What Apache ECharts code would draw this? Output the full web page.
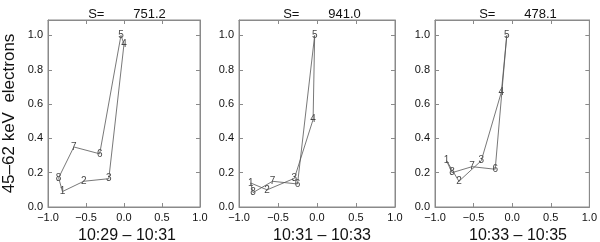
<!DOCTYPE html>
<html>
<head>
<meta charset="utf-8">
<script src="https://cdn.jsdelivr.net/npm/echarts@6/dist/echarts.min.js"></script>
<style>
  html, body { margin: 0; padding: 0; background: #fff; }
  #chart { width: 600px; height: 242px; }
</style>
</head>
<body>
<div id="chart"></div>
<script>
    // point labels, same for each panel
    var pointNames = ['1', '2', '3', '4', '5', '6', '7', '8'];

    // panel 1 : 10:29 - 10:31
    var xs1 = [-0.81, -0.53, -0.20, 0.00, -0.04, -0.32, -0.66, -0.86];
    var ys1 = [0.09, 0.15, 0.165, 0.95, 1.00, 0.31, 0.35, 0.17];
    // panel 2 : 10:31 - 10:33
    var xs2 = [-0.85, -0.64, -0.29, -0.05, -0.03, -0.25, -0.57, -0.82];
    var ys2 = [0.14, 0.10, 0.167, 0.51, 1.00, 0.134, 0.15, 0.084];
    // panel 3 : 10:33 - 10:35
    var xs3 = [-0.85, -0.69, -0.40, -0.14, -0.07, -0.22, -0.52, -0.78];
    var ys3 = [0.27, 0.15, 0.27, 0.67, 1.00, 0.22, 0.235, 0.20];

    var sValues = ['751.2', '941.0', '478.1'];
    var timeLabels = ['10:29 \u2013 10:31', '10:31 \u2013 10:33', '10:33 \u2013 10:35'];
    var yName = '45\u201362 keV  electrons';

    var panels = [[xs1, ys1], [xs2, ys2], [xs3, ys3]];
    var gridLeft = [44, 239, 435];
    var gridWidth = 156;
    var gridTop = 20;
    var gridHeight = 187;

    var font = 'Liberation Sans, Arial, sans-serif';
    var axisColor = '#8a8a8a';

    function fmt(v) {
        var s = v.toFixed(1);
        return v < 0 ? '\u2212' + s.slice(1) : s;
    }

    var grids = [], xAxes = [], yAxes = [], series = [], titles = [];

    panels.forEach(function (p, i) {
        grids.push({
            left: gridLeft[i], top: gridTop, width: gridWidth, height: gridHeight,
            show: true, borderColor: axisColor, borderWidth: 1, backgroundColor: 'transparent'
        });
        // bottom x axis with labels
        xAxes.push({
            gridIndex: i, type: 'value', min: -1, max: 1, interval: 0.5, position: 'bottom',
            axisLine: {show: true, onZero: false, lineStyle: {color: axisColor}},
            axisTick: {show: true, inside: true, length: 4, lineStyle: {color: axisColor}},
            axisLabel: {color: '#111', fontSize: 11, fontFamily: font, margin: 5, formatter: fmt},
            splitLine: {show: false}
        });
        // top mirror x axis
        xAxes.push({
            gridIndex: i, type: 'value', min: -1, max: 1, interval: 0.5, position: 'top',
            axisLine: {show: true, onZero: false, lineStyle: {color: axisColor}},
            axisTick: {show: true, inside: true, length: 4, lineStyle: {color: axisColor}},
            axisLabel: {show: false}, splitLine: {show: false}
        });
        yAxes.push({
            gridIndex: i, type: 'value', min: 0, max: 1.09, interval: 0.2, position: 'left',
            name: i === 0 ? yName : '', nameLocation: 'middle', nameGap: 30,
            nameTextStyle: {fontSize: 17, color: '#111', fontFamily: font},
            axisLine: {show: true, onZero: false, lineStyle: {color: axisColor}},
            axisTick: {show: true, inside: true, length: 4, lineStyle: {color: axisColor}},
            axisLabel: {color: '#111', fontSize: 11, fontFamily: font, margin: 5, showMaxLabel: false,
                formatter: function (v) { return v > 1.05 ? '' : v.toFixed(1); }},
            splitLine: {show: false}
        });
        yAxes.push({
            gridIndex: i, type: 'value', min: 0, max: 1.09, interval: 0.2, position: 'right',
            axisLine: {show: true, onZero: false, lineStyle: {color: axisColor}},
            axisTick: {show: true, inside: true, length: 4, lineStyle: {color: axisColor}},
            axisLabel: {show: false}, splitLine: {show: false}
        });

        var pts = p[0].map(function (x, k) { return [x, p[1][k]]; });
        var loop = pts.concat([pts[0]]);
        series.push({
            type: 'line', xAxisIndex: i * 2, yAxisIndex: i * 2,
            data: loop, symbol: 'none', silent: true,
            lineStyle: {color: '#555', width: 0.8}
        });
        series.push({
            type: 'scatter', xAxisIndex: i * 2, yAxisIndex: i * 2,
            data: pts, symbolSize: 1, silent: true,
            itemStyle: {color: 'rgba(0,0,0,0)'},
            label: {
                show: true, position: 'inside', fontSize: 10, color: '#111', fontFamily: font,
                formatter: function (d) { return pointNames[d.dataIndex]; }
            }
        });

        var cx = gridLeft[i] + gridWidth / 2;
        titles.push({
            text: 'S=        ' + sValues[i], left: cx, top: 3, textAlign: 'center',
            textStyle: {fontSize: 13, fontWeight: 'normal', color: '#111', fontFamily: font}
        });
        titles.push({
            text: timeLabels[i], left: cx, top: 223, textAlign: 'center',
            textStyle: {fontSize: 16, fontWeight: 'normal', color: '#111', fontFamily: font}
        });
    });

    var myChart = echarts.init(document.getElementById('chart'));
    myChart.setOption({
        animation: false,
        title: titles,
        grid: grids,
        xAxis: xAxes,
        yAxis: yAxes,
        series: series
    });
</script>
</body>
</html>
